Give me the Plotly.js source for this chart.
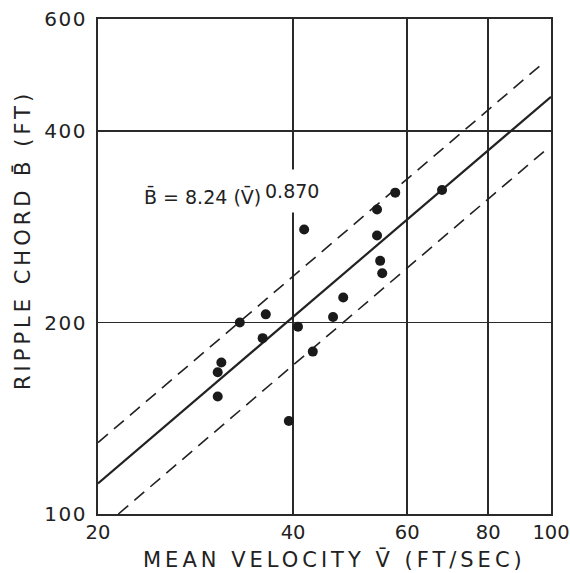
<!DOCTYPE html>
<html>
<head>
<meta charset="utf-8">
<script src="https://cdn.plot.ly/plotly-3.0.1.min.js"></script>
<style>
  html, body { margin: 0; padding: 0; background: #fff; }
  #chart { width: 570px; height: 573px; }
  g.annotation[data-index="2"] text, g.annotation[data-index="3"] text { letter-spacing: 4px; }
  .ytick text { letter-spacing: 1.5px; }
</style>
</head>
<body>
<div id="chart"></div>
<script>
// Observed data points (mean velocity, ft/sec ; ripple chord, ft)
var velocity = [30.6, 30.6, 31.0, 33.1, 36.3, 35.9, 39.4, 40.7, 42.9, 46.1, 47.8, 41.6, 53.9, 53.9, 54.5, 54.9, 57.5, 67.9];
var chord    = [153, 167, 173, 200, 206, 189, 140, 197, 180, 204, 219, 280, 301, 274, 250, 239, 320, 323];

// Fitted line B = 8.24 V^0.870 and its envelope (end points)
var fitV   = [20, 100];
var fitB   = [111.7, 452.8];
var upperV = [20, 98];
var upperB = [129.5, 515];
var lowerV = [21.5, 98];
var lowerB = [100, 373];

// Axis ticks
var xTicks = [20, 40, 60, 80, 100];
var xTickText = ['20', '40', '60', '80', '100'];
var yTicks = [100, 200, 400, 600];
var yTickText = ['100', '200', '400', '600'];

var ink = '#222';
var fontFam = 'DejaVu Sans, sans-serif';

var traces = [
  {x: fitV, y: fitB, mode: 'lines', line: {color: ink, width: 2.2}, hoverinfo: 'skip'},
  {x: upperV, y: upperB, mode: 'lines', line: {color: ink, width: 1.6, dash: '13px,8px'}, hoverinfo: 'skip'},
  {x: lowerV, y: lowerB, mode: 'lines', line: {color: ink, width: 1.6, dash: '13px,8px'}, hoverinfo: 'skip'},
  {x: velocity, y: chord, mode: 'markers', marker: {color: '#1a1a1a', size: 10}, cliponaxis: false}
];

var layout = {
  width: 570, height: 573,
  margin: {l: 98, r: 19, t: 19, b: 59},
  showlegend: false,
  font: {family: fontFam, color: ink},
  xaxis: {
    type: 'log', range: [Math.log10(20), Math.log10(100)],
    tickmode: 'array', tickvals: xTicks, ticktext: xTickText,
    ticks: '', showgrid: true, gridcolor: '#2a2a2a', gridwidth: 1.5,
    showline: true, linecolor: '#2a2a2a', linewidth: 2, mirror: true,
    zeroline: false, tickfont: {size: 19.5, color: ink},
    ticklabelstandoff: 0, ticklabeloverflow: 'allow', tickangle: 0
  },
  yaxis: {
    type: 'log', range: [Math.log10(100), Math.log10(600)],
    tickmode: 'array', tickvals: yTicks, ticktext: yTickText,
    ticks: '', showgrid: true, gridcolor: '#2a2a2a', gridwidth: 1.5,
    showline: true, linecolor: '#2a2a2a', linewidth: 2, mirror: true,
    zeroline: false, tickfont: {size: 20, color: ink},
    ticklabelstandoff: 5, ticklabeloverflow: 'allow'
  },
  annotations: [
    {xref: 'paper', yref: 'paper', x: 0.097, y: 0.642, xanchor: 'left', yanchor: 'middle',
     text: 'B\u0304 = 8.24 (V\u0304)', showarrow: false, font: {size: 19, color: ink}},
    {xref: 'paper', yref: 'paper', x: 0.364, y: 0.6525, xanchor: 'left', yanchor: 'middle',
     text: '0.870', showarrow: false, font: {size: 19, color: ink}, bgcolor: '#fff', borderpad: 1, height: 40},
    {xref: 'paper', yref: 'paper', x: 0.522, y: -0.091, xanchor: 'center', yanchor: 'middle',
     text: 'MEAN VELOCITY V\u0304 (FT/SEC)', showarrow: false, font: {size: 21, color: ink}},
    {xref: 'paper', yref: 'paper', x: -0.166, y: 0.553, xanchor: 'center', yanchor: 'middle',
     text: 'RIPPLE CHORD B\u0304 (FT)', textangle: -90, showarrow: false, font: {size: 21, color: ink}}
  ]
};

Plotly.newPlot('chart', traces, layout, {displayModeBar: false, staticPlot: true});
</script>
</body>
</html>
